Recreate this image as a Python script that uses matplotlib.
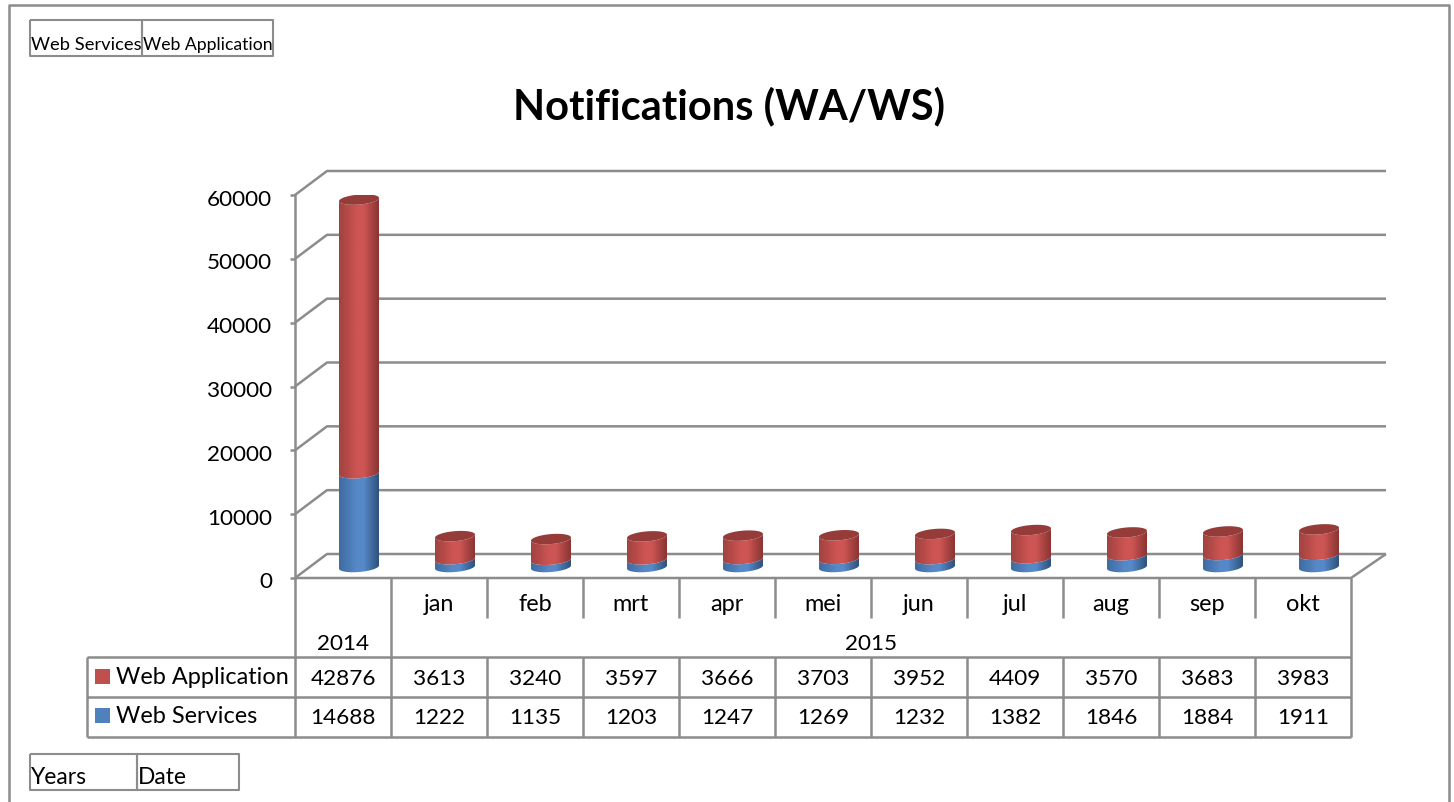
import numpy as np
import matplotlib
matplotlib.use("Agg")
import matplotlib.pyplot as plt
from matplotlib.colors import LinearSegmentedColormap
from matplotlib.patches import PathPatch, Rectangle
from matplotlib.path import Path
from matplotlib.transforms import blended_transform_factory, ScaledTranslation

plt.rcParams['font.family'] = ['Lato', 'DejaVu Sans']

# ---- data ----
categories = ['', 'jan', 'feb', 'mrt', 'apr', 'mei', 'jun', 'jul', 'aug', 'sep', 'okt']
web_application = [42876, 3613, 3240, 3597, 3666, 3703, 3952, 4409, 3570, 3683, 3983]
web_services = [14688, 1222, 1135, 1203, 1247, 1269, 1232, 1382, 1846, 1884, 1911]
y_ticks = [0, 10000, 20000, 30000, 40000, 50000, 60000]
title = 'Notifications (WA/WS)'

# ---- style ----
W, H = 1454, 803
GREY = '#8c8c8c'
LW2 = 1.8
FS = 16.9
FS_NUM = 16.2
L, R, T, B = 295, 1351, 195, 578
YS = 1                                  # one pixel down, to sit on the reference's rows
DX, DY = 32, 24
PX = (R - L) / len(categories)          # px per category
PY = (B - T) / 60000                    # px per unit
RED = '#C0504D'
BLUE = '#4F81BD'

fig = plt.figure(figsize=(W / 100, H / 100), dpi=100, facecolor='white')
bg = fig.add_axes([0, 0, 1, 1], zorder=0)
bg.set_xlim(0, W); bg.set_ylim(H - YS, -YS); bg.axis('off')
ax = fig.add_axes([L / W, 1 - (B + YS) / H, (R - L) / W, (B - T) / H], zorder=1)
ax.patch.set_visible(False)
ax.set_xlim(-0.5, len(categories) - 0.5)
ax.set_ylim(0, 60000)
for s in ('top', 'right', 'bottom'):
    ax.spines[s].set_visible(False)
ax.spines['left'].set_color(GREY); ax.spines['left'].set_linewidth(LW2)
ax.set_yticks(y_ticks)
ax.tick_params(axis='y', length=3.6, width=LW2, color=GREY, pad=13, labelsize=FS_NUM)
ax.set_xticks(range(len(categories)), categories)
ax.tick_params(axis='x', length=0, pad=10.5, labelsize=FS)
down = ScaledTranslation(0, -1.5 / 100, fig.dpi_scale_trans)
for lab in ax.get_yticklabels():
    lab.set_transform(lab.get_transform() + down)

def bline(xs, ys, lw=LW2):
    bg.plot(xs, ys, color=GREY, lw=lw, solid_capstyle='butt', clip_on=False)

# outer frame
bline([9, 9, 1449, 1449], [804, 5, 5, 804])

# walls and floor
for v in y_ticks:
    yy = B - v * PY
    bline([L, L + DX, R + DX + 3], [yy, yy - DY, yy - DY])
bline([L, R, R + DX + 3], [B, B, B - DY])

# cylinders
def make_cmap(edge_l, mid, edge_r):
    return LinearSegmentedColormap.from_list('c', [(0, edge_l), (0.45, mid), (0.62, mid), (1, edge_r)])

cmap_blue = make_cmap('#3F6CA1', '#5689C8', '#2F527E')
cmap_red = make_cmap('#A04240', '#CD5553', '#8A3533')
grad = np.linspace(0, 1, 64).reshape(1, -1)
A = 20 / PX            # half width, data
Bb = 5.0 / PY          # half ellipse height, data
S = 1.6 / PY           # tilt, data
BASE = 11 / PY         # half the depth
BAR_SCALE = 1.0
XO = 16 / PX
t_front = np.linspace(np.pi, 2 * np.pi, 40)

def arc(cx, cy, t):
    return cx + A * np.cos(t), cy + Bb * np.sin(t) + S * np.cos(t)

def segment(cx, y0, y1, cmap):
    xf0, yf0 = arc(cx, y0, t_front)
    xf1, yf1 = arc(cx, y1, t_front[::-1])
    verts = np.column_stack([np.r_[xf0, xf1], np.r_[yf0, yf1]])
    verts = np.vstack([verts, verts[0]])
    codes = [Path.MOVETO] + [Path.LINETO] * (len(verts) - 2) + [Path.CLOSEPOLY]
    patch = PathPatch(Path(verts, codes), transform=ax.transData, fc='none', ec='none')
    ax.add_patch(patch)
    im = ax.imshow(grad, extent=[cx - A, cx + A, min(y0, y1) - 2 * Bb, max(y0, y1) + 2 * Bb],
                   aspect='auto', cmap=cmap, vmin=0, vmax=1, zorder=3, interpolation='bilinear')
    im.set_clip_path(patch)

for i, (ws, wa) in enumerate(zip(web_services, web_application)):
    cx = i + XO
    y_ws = BASE + ws * BAR_SCALE
    y_top = BASE + (ws + wa) * BAR_SCALE
    segment(cx, BASE, y_ws, cmap_blue)
    segment(cx, y_ws, y_top, cmap_red)
    xe, ye = arc(cx, y_top, np.linspace(0, 2 * np.pi, 80))
    ax.fill(xe, ye, color='#953C3A', lw=0, zorder=4)

ax.set_xlim(-0.5, len(categories) - 0.5)
ax.set_ylim(0, 60000)

# data table
n = len(categories)
tr = blended_transform_factory(ax.transData, bg.transData)
for i in range(n + 1):
    x = L + i * PX
    if i in (0, 1, n):
        bline([x, x], [B, 737])
    else:
        bline([x, x], [B, 618])
        bline([x, x], [657, 737])
for yy in (657, 697, 737):
    bline([87, R], [yy, yy])
bline([87, 87], [657, 737])

ax.text(0, 643, '2014', transform=tr, ha='center', va='center', fontsize=FS_NUM, clip_on=False)
ax.text((1 + n - 1) / 2, 643, '2015', transform=tr, ha='center', va='center', fontsize=FS_NUM, clip_on=False)
rows = [('Web Application', web_application, RED, 678), ('Web Services', web_services, BLUE, 717)]
for name, vals, col, yy in rows:
    bg.add_patch(Rectangle((95, yy - 9), 15, 15, fc=col, ec='none'))
    bg.text(116, yy - 1, name, ha='left', va='center', fontsize=FS)
    for i, v in enumerate(vals):
        ax.text(i, yy, str(v), transform=tr, ha='center', va='center', fontsize=FS_NUM, clip_on=False)

# title
bg.text(729, 105.5, title, ha='center', va='center', fontsize=30, fontweight='bold')

# field buttons
def box(x0, x1, y0, y1, label, fs, dy=5):
    bline([x0, x1, x1, x0, x0], [y0, y0, y1, y1, y0], lw=1.5)
    bg.text(x0 + 1, (y0 + y1) / 2 + dy, label, ha='left', va='center', fontsize=fs)

box(30, 142, 20, 56, 'Web Services', 13.2, 6)
box(142, 273, 20, 56, 'Web Application', 12.7, 6)
box(30, 137, 754, 790, 'Years', 16.4)
box(137, 239, 754, 790, 'Date', 16.4)

fig.savefig('out.png', dpi=100)
